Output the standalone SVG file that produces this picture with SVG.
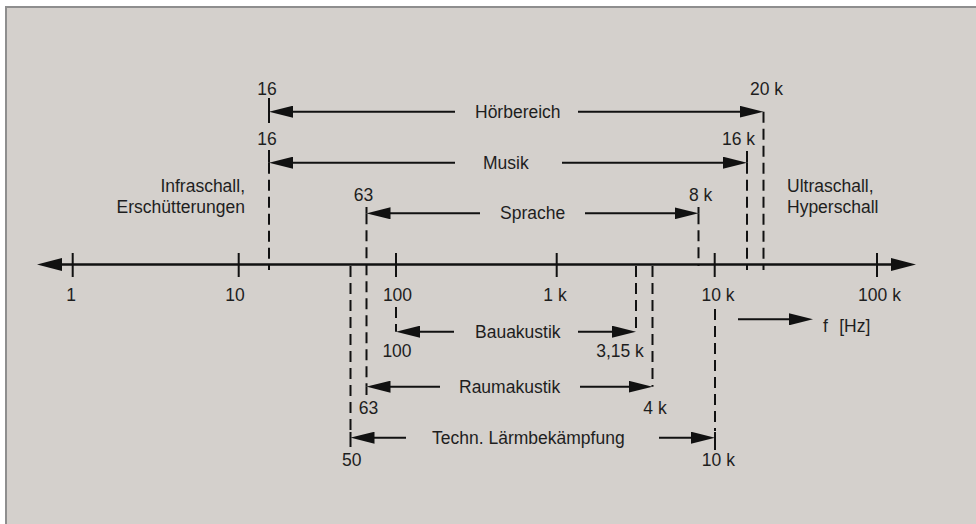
<svg xmlns="http://www.w3.org/2000/svg" width="976" height="524" viewBox="0 0 976 524">
<defs>
<style>
.t{font-family:"Liberation Sans",Arial,sans-serif;font-size:17.5px;fill:#1e1e1e}
.m{text-anchor:middle}
.e{text-anchor:end}
.ln{stroke:#111;stroke-width:2;fill:none}
.ax{stroke:#111;stroke-width:2.5;fill:none}
.d{stroke:#111;stroke-width:2;stroke-dasharray:11 6;fill:none}
.ae{marker-end:url(#ah)}
.as{marker-start:url(#ah)}
</style>
<marker id="ah" markerUnits="userSpaceOnUse" markerWidth="24" markerHeight="12" refX="14" refY="6" orient="auto-start-reverse"><path d="M0,0L24,6L0,12z" fill="#111"/></marker>
<marker id="axh" markerUnits="userSpaceOnUse" markerWidth="25" markerHeight="13" refX="15" refY="6.5" orient="auto-start-reverse"><path d="M0,0L25,6.5L0,13z" fill="#111"/></marker>
</defs>
<rect x="0" y="0" width="976" height="524" fill="#ffffff"/>
<rect x="6" y="7" width="970" height="517" fill="#d4d0cc"/>
<line x1="5" y1="7" x2="976" y2="7" stroke="#8e8e8e" stroke-width="2"/>
<line x1="6" y1="7" x2="6" y2="524" stroke="#8e8e8e" stroke-width="2"/>

<g id="axis">
<line class="ax" x1="47" y1="264.5" x2="906" y2="264.5" marker-start="url(#axh)" marker-end="url(#axh)"/>
<path class="ln" d="M72.7,253V277M238.7,253V277M396,253V277M556.7,253V277M714.7,253V277M877,253V277"/>
<text class="t m" x="71" y="301">1</text>
<text class="t m" x="235" y="301">10</text>
<text class="t m" x="397.5" y="301">100</text>
<text class="t m" x="555" y="301">1 k</text>
<text class="t m" x="718" y="301">10 k</text>
<text class="t m" x="879.5" y="301">100 k</text>
</g>

<g id="extensions">
<path class="ln" d="M269,98V112M269,150V162.7M747,151V162.7M366.5,207V213.3M698.5,207V213.3M396,324V331.7M366.5,386.7V395M350.5,432V447M715,432V450"/>
<path class="d" d="M269,112V129M269,162.7V270M763.5,111.7V270M747,162.7V270M366.5,213.3V386.7M698.5,213.3V266M396,307V320M636,266V331.7M652.5,266V386.7M350.5,266V431M715,309V431"/>
</g>

<g id="connectors">
<line class="ln as" x1="279" y1="111.7" x2="455" y2="111.7"/>
<line class="ln ae" x1="578" y1="111.7" x2="753.5" y2="111.7"/>
<line class="ln as" x1="279" y1="162.7" x2="455" y2="162.7"/>
<line class="ln ae" x1="562" y1="162.7" x2="737" y2="162.7"/>
<line class="ln as" x1="376.5" y1="213.3" x2="480" y2="213.3"/>
<line class="ln ae" x1="585" y1="213.3" x2="688.5" y2="213.3"/>
<line class="ln as" x1="406" y1="331.7" x2="454" y2="331.7"/>
<line class="ln ae" x1="578" y1="331.7" x2="626" y2="331.7"/>
<line class="ln as" x1="376.5" y1="386.7" x2="440" y2="386.7"/>
<line class="ln ae" x1="580" y1="386.7" x2="642.5" y2="386.7"/>
<line class="ln as" x1="360.5" y1="437.7" x2="406" y2="437.7"/>
<line class="ln ae" x1="659" y1="437.7" x2="705" y2="437.7"/>
<line class="ln ae" x1="738" y1="319.3" x2="803" y2="319.3"/>
</g>

<g id="hoerbereich">
<text class="t m" x="267" y="95">16</text>
<text class="t" x="750" y="95">20 k</text>
<text class="t" x="475" y="117.7">Hörbereich</text>
</g>
<g id="musik">
<text class="t m" x="267" y="145">16</text>
<text class="t" x="722" y="145">16 k</text>
<text class="t" x="483" y="168.7">Musik</text>
</g>
<g id="sprache">
<text class="t m" x="363.5" y="201">63</text>
<text class="t" x="689" y="201">8 k</text>
<text class="t" x="500" y="219.3">Sprache</text>
</g>
<g id="bauakustik">
<text class="t m" x="397" y="357">100</text>
<text class="t m" x="620" y="357">3,15 k</text>
<text class="t" x="475" y="337.7">Bauakustik</text>
</g>
<g id="raumakustik">
<text class="t m" x="368.5" y="414">63</text>
<text class="t m" x="655" y="414">4 k</text>
<text class="t" x="459" y="392.7">Raumakustik</text>
</g>
<g id="laermbekaempfung">
<text class="t m" x="351.7" y="465.5">50</text>
<text class="t m" x="718.4" y="465.5">10 k</text>
<text class="t" x="432" y="443.7">Techn. Lärmbekämpfung</text>
</g>
<g id="infraschall">
<text class="t e" x="245" y="192.3">Infraschall,</text>
<text class="t e" x="245" y="213.3">Erschütterungen</text>
</g>
<g id="ultraschall">
<text class="t" x="787" y="192.3">Ultraschall,</text>
<text class="t" x="787" y="213.3">Hyperschall</text>
</g>
<g id="unit">
<text class="t" x="823" y="331.7">f <tspan dx="6.5">[Hz]</tspan></text>
</g>
</svg>
